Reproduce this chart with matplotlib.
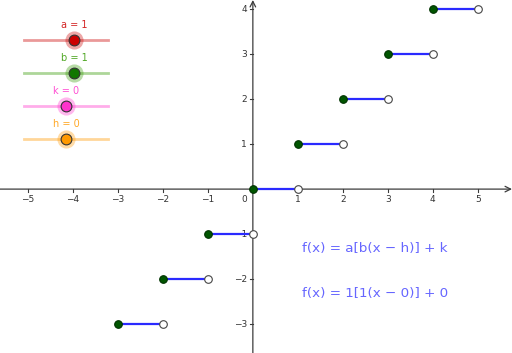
import numpy as np
import matplotlib.pyplot as plt

# step function f(x) = a[b(x-h)] + k on [-3, 5)
x_left = [-3, -2, -1, 0, 1, 2, 3, 4]
y_vals = [-3, -2, -1, 0, 1, 2, 3, 4]
x_right = [-2, -1, 0, 1, 2, 3, 4, 5]

x_ticks = [-5, -4, -3, -2, -1, 1, 2, 3, 4, 5]
y_ticks = [-3, -2, -1, 1, 2, 3, 4]

slider_names = ['a', 'b', 'k', 'h']
slider_values = [1, 1, 0, 0]
slider_colors = ['#cc0000', '#339900', '#ff33cc', '#ff9900']
knob_colors = ['#cc0000', '#117700', '#ff33cc', '#ff9900']
slider_min, slider_max = -5, 5

fig = plt.figure(figsize=(5.12, 3.53), dpi=100)
ax = fig.add_axes([0, 0, 1, 1])
ax.set_xlim(-5.62, 5.76)
ax.set_ylim(-3.64, 4.2)

axis_col = '#3c3c3c'
for s in ax.spines.values():
    s.set_visible(False)
ax.set_xticks([])
ax.set_yticks([])

# axes with arrows
ax.annotate('', xy=(5.76, 0), xytext=(-5.62, 0),
            arrowprops=dict(arrowstyle='->', color=axis_col, lw=0.9, shrinkA=0, shrinkB=0))
ax.annotate('', xy=(0, 4.2), xytext=(0, -3.64),
            arrowprops=dict(arrowstyle='->', color=axis_col, lw=0.9, shrinkA=0, shrinkB=0))

for t in x_ticks:
    ax.plot([t, t], [0, -0.06], color=axis_col, lw=0.8)
    ax.text(t, -0.13, f'{t}'.replace('-', '\u2212'), ha='center', va='top', fontsize=6.5, color='#333333')
for t in y_ticks:
    ax.plot([-0.06, 0], [t, t], color=axis_col, lw=0.8)
    ax.text(-0.13, t, f'{t}'.replace('-', '\u2212'), ha='right', va='center', fontsize=6.5, color='#333333')
ax.text(-0.13, -0.13, '0', ha='right', va='top', fontsize=6.5, color='#333333')

# step segments
for xl, xr, y in zip(x_left, x_right, y_vals):
    ax.plot([xl, xr], [y, y], color='#2a2aff', lw=1.6, solid_capstyle='butt', zorder=3)
ax.scatter(x_left, y_vals, s=30, color='#005500', edgecolor='#003300', lw=0.8, zorder=5)
ax.scatter(x_right, y_vals, s=30, color='white', edgecolor='#444444', lw=0.8, zorder=5)

# formulas
ax.text(1.1, -1.31, 'f(x) = a[b(x \u2212 h)] + k', fontsize=9.7, color='#6666ff', va='center')
ax.text(1.1, -2.31, 'f(x) = 1[1(x \u2212 0)] + 0', fontsize=9.7, color='#6666ff', va='center')

# sliders in pixel coordinates
ov = fig.add_axes([0, 0, 1, 1])
ov.set_xlim(0, 512)
ov.set_ylim(353, 0)
ov.axis('off')
x0, x1 = 24, 108
for i, (n, v, c, kc) in enumerate(zip(slider_names, slider_values, slider_colors, knob_colors)):
    yy = 40 + 33 * i
    ov.plot([x0, x1], [yy, yy], color=c, alpha=0.4, lw=2)
    kx = x0 + (v - slider_min) / (slider_max - slider_min) * (x1 - x0)
    ov.scatter([kx], [yy], s=170, color=c, alpha=0.35, lw=0, zorder=4)
    ov.scatter([kx], [yy], s=60, color=kc, edgecolor='#333333', lw=0.8, zorder=5)
    ov.text(kx, yy - 15, f'{n} = {v}', ha='center', va='center', fontsize=7, color=c, alpha=0.85)

fig.savefig('out.png', dpi=100)
